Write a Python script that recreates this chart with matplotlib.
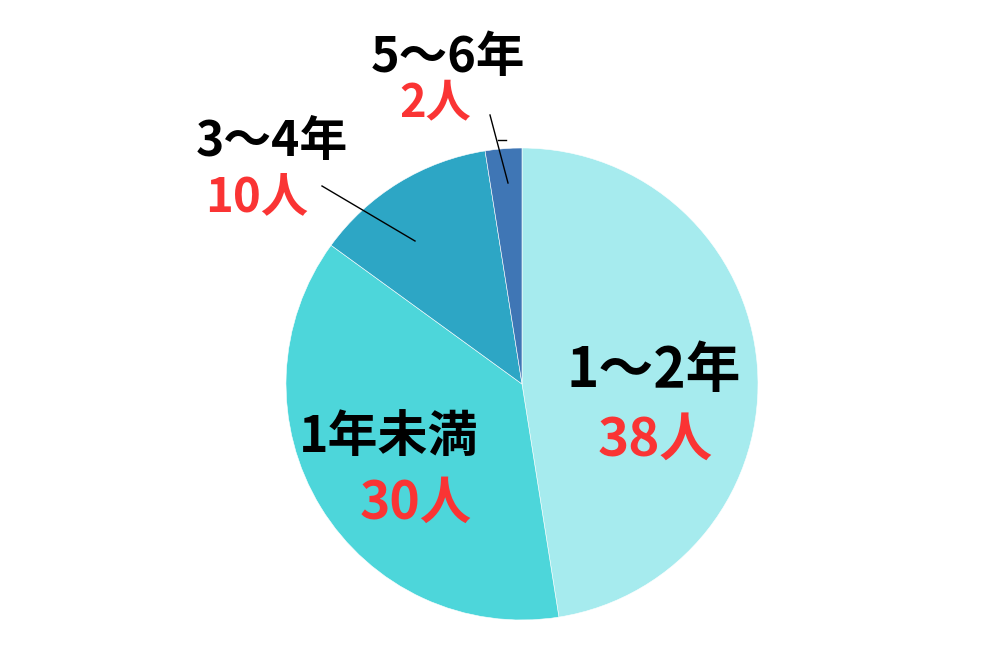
import matplotlib.pyplot as plt

plt.rcParams['font.family'] = ['Noto Sans CJK JP', 'DejaVu Sans']

# data
labels = ["1〜2年", "1年未満", "3〜4年", "5〜6年"]
counts = [38, 30, 10, 2]
count_labels = ["38人", "30人", "10人", "2人"]
colors = ["#A6EBEE", "#4DD6DA", "#2DA6C5", "#3F76B5"]

W, H = 1000, 650
fig = plt.figure(figsize=(10, 6.5), dpi=100)
ax = fig.add_axes([0, 0, 1, 1])
ax.set_xlim(0, W)
ax.set_ylim(0, H)
ax.set_aspect('equal')
ax.axis('off')

def Y(y):
    return H - y

ax.pie(counts, colors=colors, startangle=90, counterclock=False,
       center=(522, Y(384)), radius=236, frame=True,
       wedgeprops=dict(edgecolor='white', linewidth=0.4))
ax.set_xlim(0, W)
ax.set_ylim(0, H)
ax.axis('off')

red = "#FA3434"
# label positions (pixel coords), name then count
pos = [((654, 370), (655, 440), 39.5, 38),
       ((389, 437), (416, 503), 36, 37),
       ((272, 142), (257, 197), 34.5, 34),
       ((448, 57), (435, 103), 35, 32.5)]
for i, ((p1, p2, s1, s2)) in enumerate(pos):
    ax.text(p1[0], Y(p1[1]), labels[i], ha='center', va='center',
            fontsize=s1, fontweight='bold', color='black')
    ax.text(p2[0], Y(p2[1]), count_labels[i], ha='center', va='center',
            fontsize=s2, fontweight='bold', color=red)

# leader lines
ax.plot([322, 415], [Y(186), Y(241)], color='black', lw=1)
ax.plot([490, 508], [Y(115), Y(183)], color='black', lw=1)
ax.plot([498, 506], [Y(140), Y(140)], color='black', lw=1)

fig.savefig("out.png", dpi=100, facecolor='white')
